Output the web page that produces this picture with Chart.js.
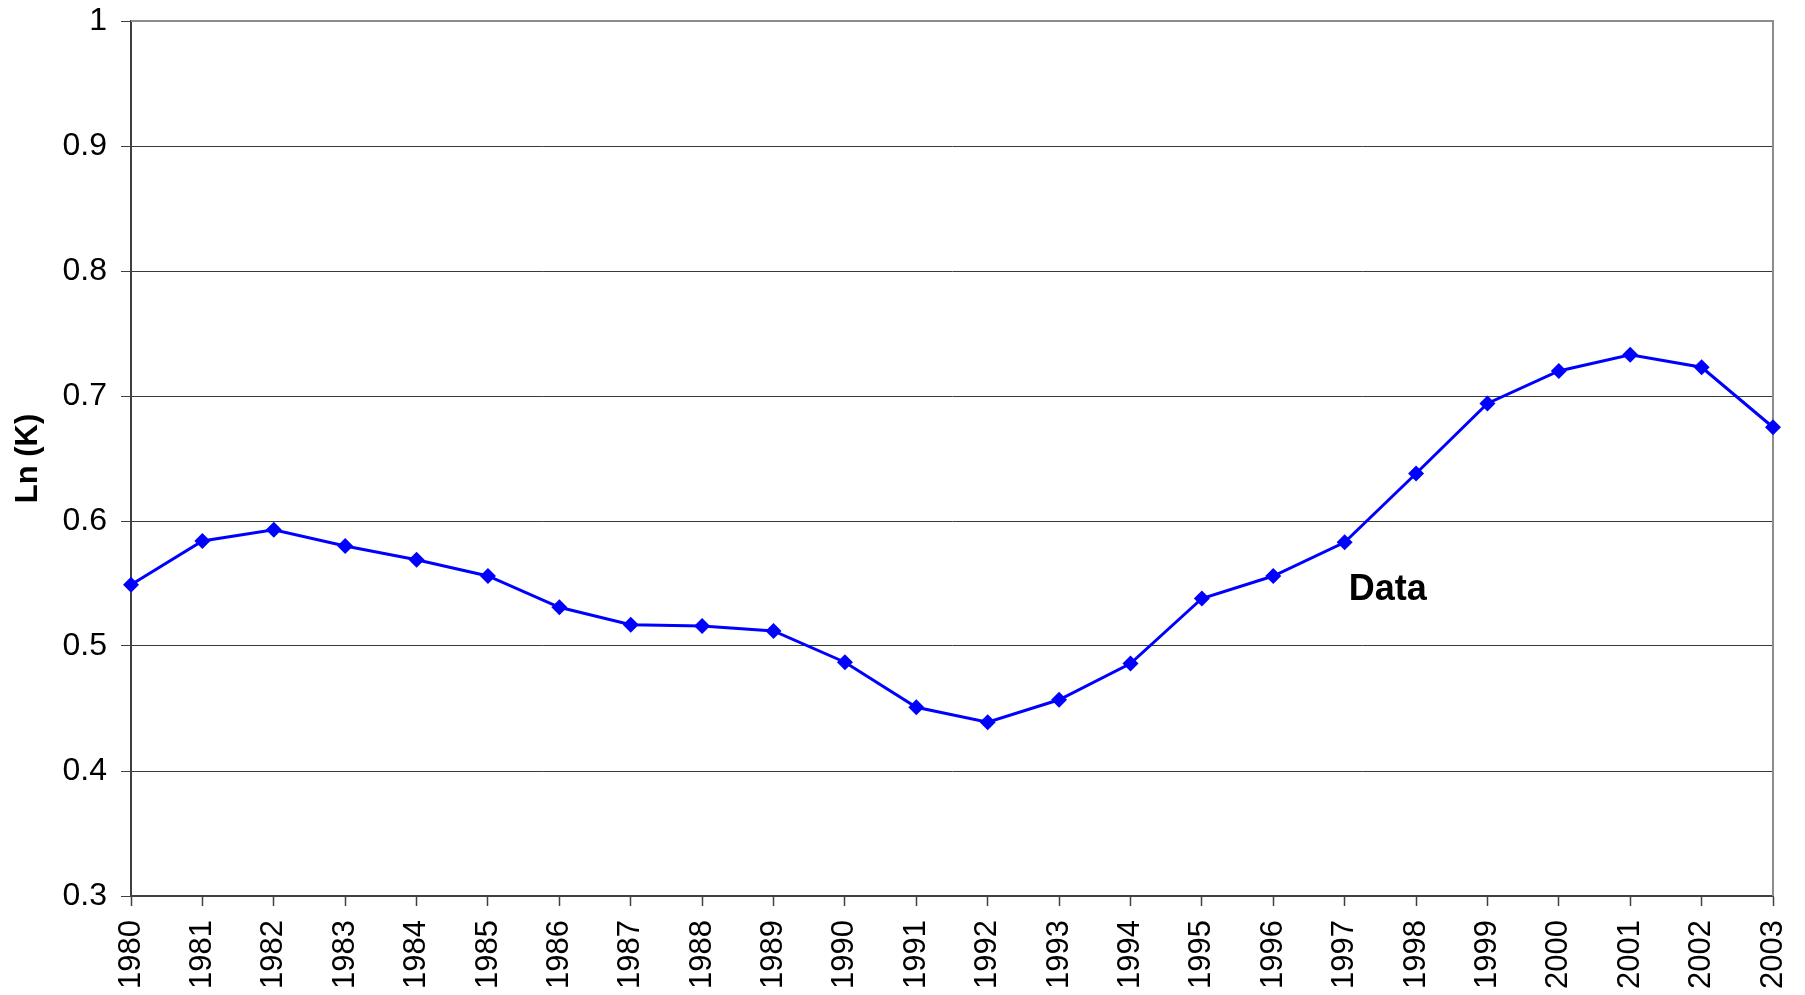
<!DOCTYPE html>
<html>
<head>
<meta charset="utf-8">
<script src="https://cdn.jsdelivr.net/npm/chart.js@4.4.1/dist/chart.umd.min.js"></script>
<style>
  html, body { margin: 0; padding: 0; background: #fff; }
  #wrap { width: 1805px; height: 995px; position: relative; }
</style>
</head>
<body>
<div id="wrap"><canvas id="chart"></canvas></div>
<script>
const years = ["1980","1981","1982","1983","1984","1985","1986","1987","1988","1989","1990","1991",
               "1992","1993","1994","1995","1996","1997","1998","1999","2000","2001","2002","2003"];
const lnK = [0.549, 0.584, 0.593, 0.580, 0.569, 0.556, 0.531, 0.517, 0.516, 0.512, 0.487, 0.451,
             0.439, 0.457, 0.486, 0.538, 0.556, 0.583, 0.638, 0.694, 0.720, 0.733, 0.723, 0.675];
const yMin = 0.3, yMax = 1, yStep = 0.1;
const seriesLabel = "Data";
const yTitle = "Ln (K)";

const FONT = "'Liberation Sans', Arial, Helvetica, sans-serif";

// gray frame on the top and right edges of the plot
const framePlugin = {
  id: "frame",
  beforeDatasetsDraw(chart) {
    const a = chart.chartArea, ctx = chart.ctx;
    ctx.save();
    ctx.strokeStyle = "#8c8c8c";
    ctx.lineWidth = 2;
    ctx.beginPath();
    ctx.moveTo(a.left, a.top);
    ctx.lineTo(a.right, a.top);
    ctx.lineTo(a.right, a.bottom);
    ctx.stroke();
    ctx.restore();
  }
};

// series name written next to the 1997 point
const seriesLabelPlugin = {
  id: "seriesLabel",
  afterDatasetsDraw(chart) {
    const x = chart.scales.x.getPixelForValue(17) + 4;
    const y = chart.scales.y.getPixelForValue(0.545);
    const ctx = chart.ctx;
    ctx.save();
    ctx.fillStyle = "#000";
    ctx.font = "bold 36px " + FONT;
    ctx.textBaseline = "middle";
    ctx.fillText(seriesLabel, x, y);
    ctx.restore();
  }
};

new Chart(document.getElementById("chart"), {
  type: "line",
  data: {
    labels: years,
    datasets: [{
      label: seriesLabel,
      data: lnK,
      borderColor: "#0000ff",
      backgroundColor: "#0000ff",
      borderWidth: 3,
      pointStyle: "rectRot",
      pointRadius: 8,
      pointBorderWidth: 0,
      tension: 0,
      fill: false
    }]
  },
  options: {
    responsive: true,
    maintainAspectRatio: false,
    animation: false,
    layout: { padding: { top: 21, right: 32, left: 0, bottom: 0 } },
    plugins: { legend: { display: false }, tooltip: { enabled: false } },
    scales: {
      x: {
        offset: false,
        grid: { drawOnChartArea: false, drawTicks: true, tickLength: 10, tickColor: "#404040", tickWidth: 1.5 },
        border: { color: "#404040", width: 2 },
        ticks: {
          autoSkip: false, minRotation: 90, maxRotation: 90, padding: 14,
          color: "#000", font: { family: FONT, size: 31 }
        },
        afterFit(scale) { scale.height = 99; scale.paddingLeft = 0; scale.paddingRight = 0; }
      },
      y: {
        min: yMin, max: yMax,
        grid: { color: "#3a3a3a", lineWidth: 1, drawTicks: true, tickLength: 10, tickColor: "#404040" },
        border: { color: "#404040", width: 2 },
        ticks: {
          stepSize: yStep, padding: 14,
          color: "#000", font: { family: FONT, size: 32 },
          callback: (v) => String(+v.toFixed(1))
        },
        title: {
          display: true, text: yTitle, color: "#000",
          font: { family: FONT, size: 31, weight: "bold" },
          padding: { top: 10, bottom: 0 }
        },
        afterFit(scale) { scale.width = 131; scale.paddingTop = 0; scale.paddingBottom = 0; }
      }
    }
  },
  plugins: [framePlugin, seriesLabelPlugin]
});
</script>
</body>
</html>
